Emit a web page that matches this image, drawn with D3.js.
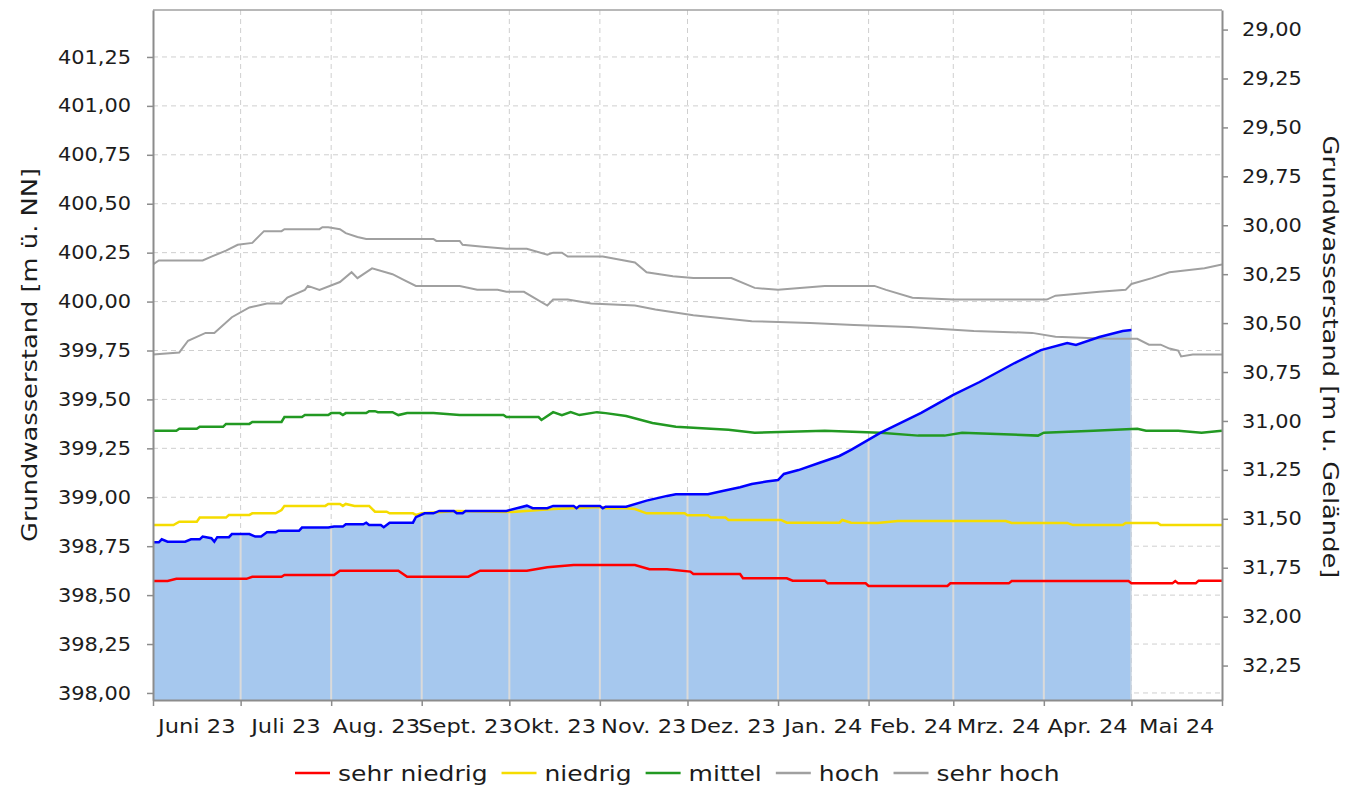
<!DOCTYPE html>
<html lang="de">
<head>
<meta charset="UTF-8">
<title>Grundwasserstand</title>
<script src="https://d3js.org/d3.v7.min.js"></script>
<style>
  body { margin: 0; background: #fff; }
  svg { display: block; font-family: "DejaVu Sans", sans-serif; }
</style>
</head>
<body>
<svg id="chart" width="1350" height="786"></svg>
<script>
// Zeitraum und Achsen
const zeitraum = ["2023-06-01", "2024-06-01"];
const monthLabels = ["Juni 23", "Juli 23", "Aug. 23", "Sept. 23", "Okt. 23", "Nov. 23",
                     "Dez. 23", "Jan. 24", "Feb. 24", "Mrz. 24", "Apr. 24", "Mai 24"];
const nnBereich = [397.964, 401.49];
const leftTicks = [398.00, 398.25, 398.50, 398.75, 399.00, 399.25, 399.50, 399.75,
                   400.00, 400.25, 400.50, 400.75, 401.00, 401.25];
const rightTicks = [29.00, 29.25, 29.50, 29.75, 30.00, 30.25, 30.50, 30.75,
                    31.00, 31.25, 31.50, 31.75, 32.00, 32.25];
const gelaende = 430.39; // Gelaendehoehe m ü. NN

// Messwerte (blau, gefuellt)
const messwerte = [
  ["2023-06-01",398.770],["2023-06-03",398.770],["2023-06-04",398.785],["2023-06-06",398.773],["2023-06-12",398.773],
  ["2023-06-14",398.785],["2023-06-17",398.785],["2023-06-18",398.799],["2023-06-21",398.791],["2023-06-22",398.773],
  ["2023-06-23",398.796],["2023-06-27",398.796],["2023-06-28",398.812],["2023-07-04",398.812],["2023-07-06",398.799],
  ["2023-07-08",398.799],["2023-07-10",398.821],["2023-07-13",398.821],["2023-07-14",398.829],["2023-07-21",398.829],
  ["2023-07-22",398.845],["2023-07-31",398.845],["2023-08-02",398.850],["2023-08-05",398.850],["2023-08-06",398.862],
  ["2023-08-12",398.862],["2023-08-13",398.870],["2023-08-14",398.858],["2023-08-18",398.858],["2023-08-19",398.847],
  ["2023-08-21",398.870],["2023-08-29",398.870],["2023-08-30",398.898],["2023-09-02",398.918],["2023-09-05",398.918],
  ["2023-09-07",398.930],["2023-09-12",398.930],["2023-09-13",398.918],["2023-09-15",398.918],["2023-09-16",398.930],
  ["2023-09-30",398.930],["2023-10-07",398.957],["2023-10-09",398.944],["2023-10-14",398.944],["2023-10-16",398.956],
  ["2023-10-23",398.956],["2023-10-24",398.944],["2023-10-25",398.956],["2023-11-01",398.956],["2023-11-02",398.944],
  ["2023-11-03",398.952],["2023-11-10",398.952],["2023-11-17",398.983],["2023-11-24",399.007],["2023-11-27",399.015],
  ["2023-12-08",399.015],["2023-12-13",399.032],["2023-12-19",399.051],["2023-12-23",399.068],["2023-12-28",399.080],
  ["2024-01-01",399.088],["2024-01-03",399.119],["2024-01-08",399.139],["2024-01-15",399.175],["2024-01-22",399.211],
  ["2024-01-26",399.242],["2024-02-05",399.329],["2024-02-19",399.431],["2024-03-01",399.523],["2024-03-10",399.589],
  ["2024-03-22",399.686],["2024-03-31",399.752],["2024-04-09",399.788],["2024-04-12",399.778],["2024-04-20",399.819],
  ["2024-04-24",399.834],["2024-04-28",399.850],["2024-05-01",399.855]
];

// Vergleichslinien
const sehrNiedrig = [
  ["2023-06-01",398.572],["2023-06-06",398.572],["2023-06-09",398.583],["2023-07-03",398.583],["2023-07-05",398.594],
  ["2023-07-15",398.594],["2023-07-16",398.603],["2023-08-02",398.603],["2023-08-04",398.625],["2023-08-24",398.625],
  ["2023-08-27",398.594],["2023-09-17",398.594],["2023-09-21",398.625],["2023-10-07",398.625],["2023-10-14",398.642],
  ["2023-10-23",398.654],["2023-11-13",398.654],["2023-11-18",398.632],["2023-11-24",398.632],["2023-12-02",398.620],
  ["2023-12-03",398.608],["2023-12-19",398.608],["2023-12-20",398.586],["2024-01-04",398.586],["2024-01-06",398.574],
  ["2024-01-17",398.574],["2024-01-18",398.560],["2024-01-31",398.560],["2024-02-01",398.547],["2024-02-28",398.547],
  ["2024-02-29",398.560],["2024-03-20",398.560],["2024-03-21",398.572],["2024-04-30",398.572],["2024-05-01",398.560],
  ["2024-05-15",398.560],["2024-05-16",398.572],["2024-05-17",398.560],["2024-05-23",398.560],["2024-05-24",398.574],
  ["2024-06-01",398.574]
];
const niedrig = [
  ["2023-06-01",398.858],["2023-06-08",398.858],["2023-06-10",398.875],["2023-06-16",398.875],["2023-06-17",398.896],
  ["2023-06-26",398.896],["2023-06-27",398.910],["2023-07-04",398.910],["2023-07-05",398.918],["2023-07-13",398.918],
  ["2023-07-15",398.935],["2023-07-16",398.956],["2023-07-30",398.956],["2023-07-31",398.966],["2023-08-04",398.966],
  ["2023-08-05",398.956],["2023-08-06",398.966],["2023-08-09",398.956],["2023-08-14",398.956],["2023-08-16",398.926],
  ["2023-08-20",398.926],["2023-08-21",398.918],["2023-08-29",398.918],["2023-08-30",398.910],["2023-09-01",398.918],
  ["2023-09-13",398.930],["2023-10-02",398.925],["2023-10-16",398.940],["2023-11-01",398.950],["2023-11-03",398.944],
  ["2023-11-10",398.944],["2023-11-13",398.940],["2023-11-17",398.918],["2023-11-30",398.918],["2023-12-01",398.908],
  ["2023-12-08",398.908],["2023-12-09",398.896],["2023-12-14",398.896],["2023-12-15",398.884],["2024-01-02",398.884],
  ["2024-01-04",398.870],["2024-01-22",398.870],["2024-01-23",398.884],["2024-01-26",398.870],["2024-02-04",398.869],
  ["2024-02-11",398.879],["2024-03-19",398.879],["2024-03-21",398.869],["2024-04-09",398.869],["2024-04-11",398.858],
  ["2024-04-28",398.858],["2024-04-29",398.869],["2024-05-10",398.869],["2024-05-11",398.858],["2024-06-01",398.858]
];
const mittel = [
  ["2023-06-01",399.340],["2023-06-09",399.340],["2023-06-10",399.350],["2023-06-16",399.350],["2023-06-17",399.360],
  ["2023-06-25",399.360],["2023-06-26",399.375],["2023-07-04",399.375],["2023-07-05",399.385],["2023-07-15",399.385],
  ["2023-07-16",399.410],["2023-07-22",399.410],["2023-07-23",399.420],["2023-07-31",399.420],["2023-08-01",399.430],
  ["2023-08-04",399.430],["2023-08-05",399.420],["2023-08-06",399.430],["2023-08-13",399.430],["2023-08-14",399.440],
  ["2023-08-16",399.440],["2023-08-17",399.435],["2023-08-22",399.435],["2023-08-24",399.420],["2023-08-27",399.430],
  ["2023-09-05",399.430],["2023-09-14",399.420],["2023-09-29",399.420],["2023-09-30",399.410],["2023-10-11",399.410],
  ["2023-10-12",399.395],["2023-10-16",399.435],["2023-10-19",399.420],["2023-10-22",399.435],["2023-10-25",399.420],
  ["2023-10-31",399.435],["2023-11-03",399.430],["2023-11-10",399.415],["2023-11-19",399.380],["2023-11-27",399.360],
  ["2023-12-15",399.345],["2023-12-24",399.330],["2024-01-17",399.340],["2024-02-05",399.330],["2024-02-18",399.315],
  ["2024-02-27",399.315],["2024-03-04",399.330],["2024-03-30",399.315],["2024-04-01",399.330],["2024-04-18",399.340],
  ["2024-05-03",399.350],["2024-05-06",399.340],["2024-05-17",399.340],["2024-05-25",399.330],["2024-06-01",399.340]
];
const hoch = [
  ["2023-06-01",399.73],["2023-06-10",399.74],["2023-06-13",399.80],["2023-06-19",399.84],["2023-06-22",399.84],
  ["2023-06-28",399.92],["2023-07-04",399.97],["2023-07-10",399.99],["2023-07-15",399.99],["2023-07-17",400.02],
  ["2023-07-23",400.06],["2023-07-24",400.08],["2023-07-28",400.06],["2023-08-04",400.10],["2023-08-08",400.15],
  ["2023-08-10",400.12],["2023-08-15",400.17],["2023-08-22",400.14],["2023-08-26",400.11],["2023-08-30",400.08],
  ["2023-09-14",400.08],["2023-09-20",400.06],["2023-09-27",400.06],["2023-09-30",400.05],["2023-10-06",400.05],
  ["2023-10-14",399.98],["2023-10-16",400.01],["2023-10-21",400.01],["2023-10-29",399.99],["2023-11-13",399.98],
  ["2023-11-20",399.96],["2023-12-03",399.93],["2023-12-23",399.90],["2024-01-12",399.89],["2024-01-27",399.88],
  ["2024-02-15",399.87],["2024-03-08",399.85],["2024-03-28",399.84],["2024-04-05",399.82],["2024-04-23",399.81],
  ["2024-05-03",399.81],["2024-05-07",399.78],["2024-05-11",399.78],["2024-05-14",399.76],["2024-05-17",399.75],
  ["2024-05-18",399.72],["2024-05-22",399.73],["2024-06-01",399.73]
];
const sehrHoch = [
  ["2023-06-01",400.19],["2023-06-03",400.21],["2023-06-18",400.21],["2023-06-21",400.23],["2023-06-26",400.26],
  ["2023-06-30",400.29],["2023-07-05",400.30],["2023-07-09",400.36],["2023-07-15",400.36],["2023-07-16",400.37],
  ["2023-07-28",400.37],["2023-07-29",400.38],["2023-07-31",400.38],["2023-08-04",400.37],["2023-08-06",400.35],
  ["2023-08-10",400.33],["2023-08-13",400.32],["2023-09-05",400.32],["2023-09-06",400.31],["2023-09-14",400.31],
  ["2023-09-15",400.29],["2023-09-22",400.28],["2023-09-30",400.27],["2023-10-07",400.27],["2023-10-14",400.24],
  ["2023-10-16",400.25],["2023-10-19",400.25],["2023-10-21",400.23],["2023-11-02",400.23],["2023-11-13",400.20],
  ["2023-11-17",400.15],["2023-11-26",400.13],["2023-12-03",400.12],["2023-12-16",400.12],["2023-12-24",400.07],
  ["2024-01-01",400.06],["2024-01-17",400.08],["2024-02-03",400.08],["2024-02-07",400.06],["2024-02-16",400.02],
  ["2024-03-01",400.01],["2024-04-02",400.01],["2024-04-05",400.03],["2024-04-20",400.05],["2024-04-29",400.06],
  ["2024-05-01",400.09],["2024-05-08",400.12],["2024-05-14",400.15],["2024-05-20",400.16],["2024-05-26",400.17],
  ["2024-06-01",400.19]
];

const legendNames = ["sehr niedrig", "niedrig", "mittel", "hoch", "sehr hoch"];
const legendColors = ["#ff0000", "#f5dc00", "#229922", "#a0a0a0", "#a0a0a0"];

// ---------------------------------------------------------------
const parseDate = d3.timeParse("%Y-%m-%d");
const de = d3.formatLocale({decimal: ",", thousands: ".", grouping: [3], currency: ["", " €"]});
const fmt = de.format(".2f");

const plot = {left: 153, right: 1222, top: 10, bottom: 700};
const svg = d3.select("#chart");
const textColor = "#1c1c1c";

const x = d3.scaleTime().domain(zeitraum.map(parseDate)).range([plot.left, plot.right]);
const y = d3.scaleLinear().domain(nnBereich).range([plot.bottom, plot.top]);
const yR = d3.scaleLinear().domain(nnBereich.map(v => gelaende - v)).range([plot.bottom, plot.top]);

const monthStarts = d3.timeMonth.range(x.domain()[0], x.domain()[1]);
const monthEdges = monthStarts.slice(1);

svg.append("clipPath").attr("id", "plotClip").append("rect")
  .attr("x", plot.left).attr("y", plot.top)
  .attr("width", plot.right - plot.left).attr("height", plot.bottom - plot.top);

// dashed grid
const grid = svg.append("g");
grid.selectAll("line.h").data(leftTicks).join("line").attr("class", "h")
  .attr("x1", plot.left).attr("x2", plot.right)
  .attr("y1", d => y(d)).attr("y2", d => y(d))
  .attr("stroke", "#cfcfcf").attr("stroke-width", 1).attr("stroke-dasharray", "5,4");
grid.selectAll("line.v").data(monthEdges).join("line").attr("class", "v")
  .attr("x1", d => x(d)).attr("x2", d => x(d))
  .attr("y1", plot.top).attr("y2", plot.bottom)
  .attr("stroke", "#cfcfcf").attr("stroke-width", 1).attr("stroke-dasharray", "5,4");

// measured area
const mess = messwerte.map(d => [parseDate(d[0]), d[1]]);
const area = d3.area().x(d => x(d[0])).y0(plot.bottom).y1(d => y(d[1]));
svg.append("path").datum(mess).attr("d", area).attr("fill", "#a6c8ee");

svg.append("clipPath").attr("id", "areaClip").append("path").datum(mess).attr("d", area);
svg.append("g").attr("clip-path", "url(#areaClip)")
  .selectAll("line").data(monthEdges).join("line")
  .attr("x1", d => x(d)).attr("x2", d => x(d))
  .attr("y1", plot.top).attr("y2", plot.bottom)
  .attr("stroke", "#dadada").attr("stroke-width", 2);

// comparison lines
const line = d3.line().x(d => x(parseDate(d[0]))).y(d => y(d[1]));
const lines = svg.append("g").attr("clip-path", "url(#plotClip)").attr("fill", "none");
const series = [sehrHoch, hoch, mittel, niedrig, sehrNiedrig];
const seriesColors = [legendColors[4], legendColors[3], legendColors[2], legendColors[1], legendColors[0]];
series.forEach((s, i) => {
  lines.append("path").datum(s).attr("d", line)
    .attr("stroke", seriesColors[i]).attr("stroke-width", i < 2 ? 2 : 2.5);
});
lines.append("path").datum(messwerte).attr("d", line)
  .attr("stroke", "#0000ff").attr("stroke-width", 2.5);

// frame
svg.append("line").attr("x1", plot.left).attr("x2", plot.right).attr("y1", plot.top).attr("y2", plot.top)
  .attr("stroke", "#a0a0a0").attr("stroke-width", 1.5);

// axes
const axisColor = "#8c8c8c";
const gLeft = svg.append("g").attr("transform", `translate(${plot.left},0)`)
  .call(d3.axisLeft(y).tickValues(leftTicks).tickFormat(fmt).tickSize(6).tickSizeOuter(0));
const gRight = svg.append("g").attr("transform", `translate(${plot.right},0)`)
  .call(d3.axisRight(yR).tickValues(rightTicks).tickFormat(fmt).tickSize(6).tickSizeOuter(0));
const gBottom = svg.append("g").attr("transform", `translate(0,${plot.bottom})`)
  .call(d3.axisBottom(x).tickValues(monthStarts.concat([x.domain()[1]])).tickFormat("").tickSize(6).tickSizeOuter(0));

[gLeft, gRight].forEach(g => g.attr("font-family", "DejaVu Sans").attr("font-size", 19));
gLeft.selectAll("text").attr("x", null).attr("fill", textColor)
  .attr("transform", "translate(-22,0) scale(1.1,1)");
gRight.selectAll("text").attr("x", null).attr("fill", textColor)
  .attr("transform", "translate(20,0) scale(1.1,1)");

[gLeft, gRight, gBottom].forEach(g => {
  g.select(".domain").attr("stroke", axisColor).attr("stroke-width", 2);
  g.selectAll(".tick line").attr("stroke", axisColor).attr("stroke-width", 1.5);
});

// month labels centred in each month
svg.append("g").selectAll("text").data(monthStarts).join("text")
  .attr("transform", d => {
    const mid = (x(d) + x(d3.timeMonth.offset(d, 1))) / 2;
    return `translate(${mid},733) scale(1.13,1)`;
  })
  .attr("text-anchor", "middle").attr("font-size", 20).attr("fill", textColor)
  .text((d, i) => monthLabels[i]);

// axis titles
svg.append("text").attr("transform", "translate(37,355) rotate(-90) scale(1.17,1)")
  .attr("text-anchor", "middle").attr("font-size", 22).attr("fill", textColor)
  .text("Grundwasserstand [m ü. NN]");
svg.append("text").attr("transform", "translate(1323,357) rotate(90) scale(1.17,1)")
  .attr("text-anchor", "middle").attr("font-size", 22).attr("fill", textColor)
  .text("Grundwasserstand [m u. Gelände]");

// legend
const legend = svg.append("g");
let lx = 295;
legendNames.forEach((name, i) => {
  legend.append("line").attr("x1", lx).attr("x2", lx + 35).attr("y1", 773).attr("y2", 773)
    .attr("stroke", legendColors[i]).attr("stroke-width", 2.5);
  const t = legend.append("text").attr("font-size", 21).attr("fill", textColor)
    .attr("transform", `translate(${lx + 43},781) scale(1.19,1)`).text(name);
  lx += 43 + t.node().getComputedTextLength() * 1.19 + 14;
});
</script>
</body>
</html>
